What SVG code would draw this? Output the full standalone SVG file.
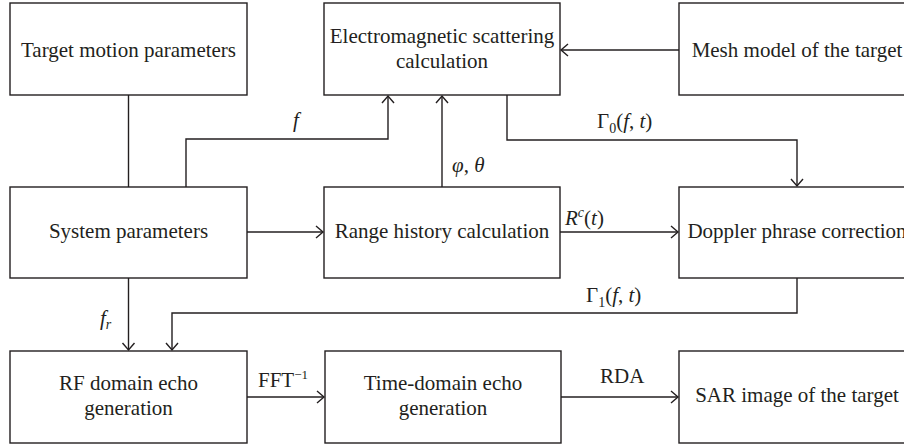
<svg xmlns="http://www.w3.org/2000/svg" width="904" height="445" viewBox="0 0 904 445">
  <style>
    .box { fill: #fff; stroke: #231f20; stroke-width: 1.4; }
    .lbl { font-family: "Liberation Serif", "Times New Roman", serif; font-size: 21px; fill: #231f20; text-anchor: middle; }
    .math { font-family: "Liberation Serif", "Times New Roman", serif; font-size: 21px; fill: #231f20; }
    .it { font-style: italic; }
    .wire { fill: none; stroke: #231f20; stroke-width: 1.4; }
  </style>
  <defs>
    <marker id="arr" viewBox="-10 -8 12 16" markerWidth="12" markerHeight="16" refX="0" refY="0" orient="auto" markerUnits="userSpaceOnUse">
      <path d="M-7,-6 L0,0 L-7,6" fill="none" stroke="#231f20" stroke-width="1.4"/>
    </marker>
  </defs>
  <rect width="904" height="445" fill="#fff"/>

  <!-- connectors -->
  <g id="connectors">
    <path class="wire" d="M128.5,95 V187"/>
    <path class="wire" d="M186,187 V139 H388 V96" marker-end="url(#arr)"/>
    <path class="wire" d="M442,187 V96" marker-end="url(#arr)"/>
    <path class="wire" d="M679,50 H561" marker-end="url(#arr)"/>
    <path class="wire" d="M507,95 V140 H797 V186" marker-end="url(#arr)"/>
    <path class="wire" d="M247,232 H323" marker-end="url(#arr)"/>
    <path class="wire" d="M560,232 H678" marker-end="url(#arr)"/>
    <path class="wire" d="M797,278 V313 H172 V350" marker-end="url(#arr)"/>
    <path class="wire" d="M128.5,278 V350" marker-end="url(#arr)"/>
    <path class="wire" d="M247,397 H324" marker-end="url(#arr)"/>
    <path class="wire" d="M561,397 H678" marker-end="url(#arr)"/>
  </g>

  <!-- connector labels -->
  <g id="edge-labels">
    <text class="math it" x="293" y="127">f</text>
    <text class="math" x="452" y="172"><tspan class="it">φ</tspan>, <tspan class="it">θ</tspan></text>
    <text class="math" x="597" y="128">Γ<tspan font-size="14" dy="5">0</tspan><tspan dy="-5">(</tspan><tspan class="it">f</tspan>, <tspan class="it">t</tspan>)</text>
    <text class="math" x="565" y="225"><tspan class="it">R</tspan><tspan class="it" font-size="14" dy="-8">c</tspan><tspan dy="8">(</tspan><tspan class="it">t</tspan>)</text>
    <text class="math" x="586" y="302">Γ<tspan font-size="14" dy="5">1</tspan><tspan dy="-5">(</tspan><tspan class="it">f</tspan>, <tspan class="it">t</tspan>)</text>
    <text class="math" x="100" y="325"><tspan class="it">f</tspan><tspan class="it" font-size="14" dy="4">r</tspan></text>
    <text class="math" x="258" y="387">FFT<tspan font-size="13" dy="-8">−1</tspan></text>
    <text class="math" x="600" y="383">RDA</text>
  </g>

  <!-- nodes -->
  <g id="target-motion">
    <rect class="box" x="10" y="3" width="237" height="92"/>
    <text class="lbl" x="128.5" y="57">Target motion parameters</text>
  </g>
  <g id="em-scattering">
    <rect class="box" x="324" y="3" width="236" height="92"/>
    <text class="lbl" x="442" y="43">Electromagnetic scattering</text>
    <text class="lbl" x="442" y="68">calculation</text>
  </g>
  <g id="mesh-model">
    <rect class="box" x="679" y="3" width="236" height="92"/>
    <text class="lbl" x="797" y="57">Mesh model of the target</text>
  </g>
  <g id="system-params">
    <rect class="box" x="10" y="187" width="237" height="91"/>
    <text class="lbl" x="128.5" y="238">System parameters</text>
  </g>
  <g id="range-history">
    <rect class="box" x="324" y="187" width="236" height="91"/>
    <text class="lbl" x="442" y="238">Range history calculation</text>
  </g>
  <g id="doppler-correction">
    <rect class="box" x="679" y="187" width="236" height="91"/>
    <text class="lbl" x="797" y="238">Doppler phrase correction</text>
  </g>
  <g id="rf-echo">
    <rect class="box" x="10" y="351" width="237" height="92"/>
    <text class="lbl" x="128.5" y="390">RF domain echo</text>
    <text class="lbl" x="128.5" y="415">generation</text>
  </g>
  <g id="time-echo">
    <rect class="box" x="325" y="351" width="236" height="92"/>
    <text class="lbl" x="443" y="390">Time-domain echo</text>
    <text class="lbl" x="443" y="415">generation</text>
  </g>
  <g id="sar-image">
    <rect class="box" x="679" y="351" width="236" height="92"/>
    <text class="lbl" x="797" y="402">SAR image of the target</text>
  </g>
</svg>
